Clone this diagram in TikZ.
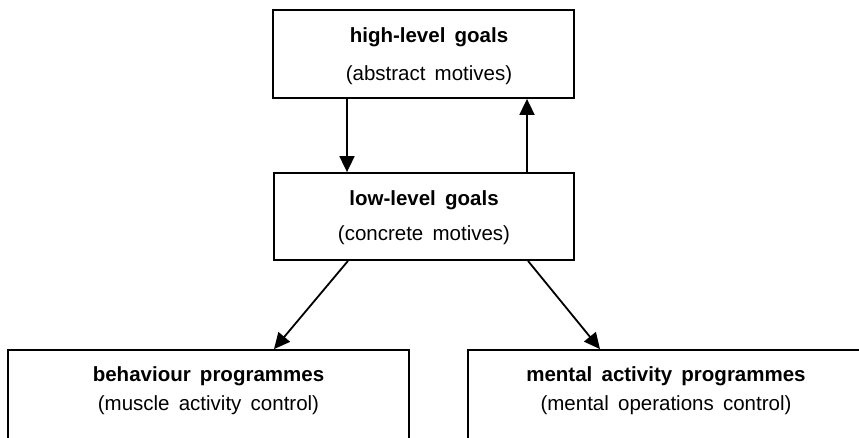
\documentclass[tikz,border=0pt]{standalone}
\usepackage{fontspec}
\setmainfont{Liberation Sans}
\usetikzlibrary{arrows.meta}
% wide word spacing for the box labels
\newcommand\labelfont{\fontsize{20.5}{24}\selectfont\spaceskip=0.45em\relax}
\begin{document}
\begin{tikzpicture}[x=1pt,y=-1pt,
  box/.style={draw, line width=1.8pt, rectangle, inner sep=0pt},
  head/.style={font=\labelfont\bfseries, inner sep=0pt},
  sub/.style={font=\labelfont, inner sep=0pt},
  arr/.style={line width=1.8pt, -{Triangle[length=16pt,width=15pt]}}]
\useasboundingbox (0,0) rectangle (859,437);
\clip (0,0) rectangle (859,437);
% boxes
\node[box, minimum width=301pt, minimum height=88pt] (top) at (423.5,54) {};
\node[box, minimum width=300pt, minimum height=87pt] (mid) at (424,216.5) {};
\node[box, minimum width=401pt, minimum height=120pt] (bl) at (208.5,410) {};
\node[box, minimum width=396pt, minimum height=120pt] (br) at (666,410) {};
% texts
\node[head] (t1) at (429,37) {high-level goals};
\node[sub] (t2) at (429,75) {(abstract motives)};
\node[head] (m1) at (424,200) {low-level goals};
\node[sub] (m2) at (424,235) {(concrete motives)};
\node[head] (b1) at (208.5,376) {behaviour programmes};
\node[sub] (b2) at (208.5,405) {(muscle activity control)};
\node[head] (r1) at (666,376) {mental activity programmes};
\node[sub] (r2) at (666,405) {(mental operations control)};
% connectors
\draw[arr] ([xshift=-76.5pt]top.south) -- ([xshift=-77pt]mid.north);
\draw[arr] ([xshift=103pt]mid.north) -- ([xshift=103.5pt]top.south);
\draw[arr] ([xshift=-76pt]mid.south) -- ([xshift=65.5pt]bl.north);
\draw[arr] ([xshift=104pt]mid.south) -- ([xshift=-66pt]br.north);
\end{tikzpicture}
\end{document}
